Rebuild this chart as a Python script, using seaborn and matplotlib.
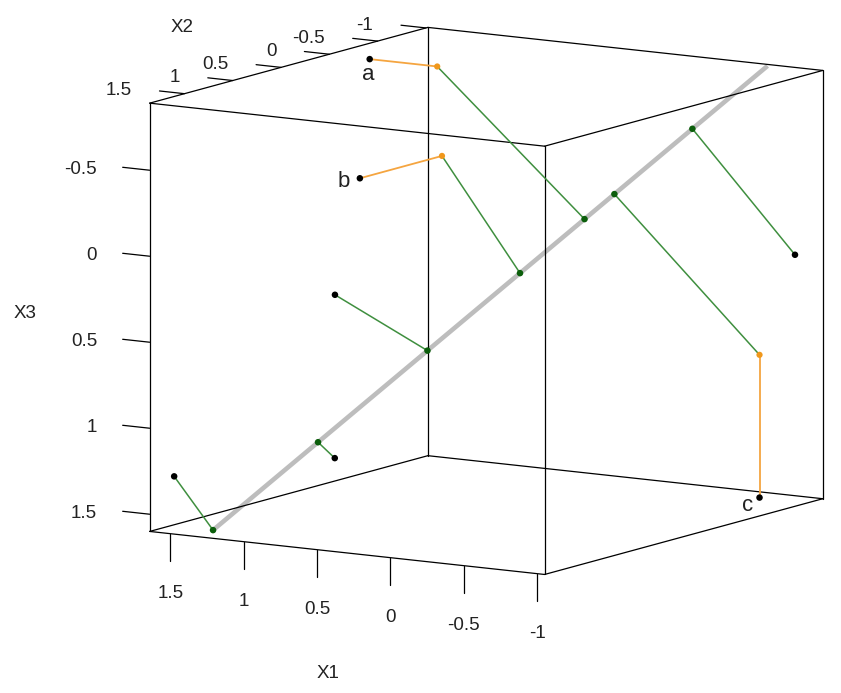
import itertools
import matplotlib
matplotlib.use("Agg")
import matplotlib.pyplot as plt
import numpy as np
import seaborn as sns

# observed points; a, b and c each carry one displaced coordinate
point_names = ["a", "b", "", "", "", "", "c"]
obs_x1 = [1.51, 0.32, 1.74, 0.82, 1.46, -0.92, -1.06]
obs_x2 = [-0.72, 1.19, -0.71, 0.69, 1.38, -1.43, -0.85]
obs_x3 = [-0.84, -0.55, 0.55, 1.20, 1.26, 0.18, 1.49]

# completed values (equal to the observed ones except for a, b, c)
fit_x1 = [1.05, 0.32, 1.74, 0.82, 1.46, -0.92, -1.06]
fit_x2 = [-0.72, 0.34, -0.71, 0.69, 1.38, -1.43, -0.85]
fit_x3 = [-0.84, -0.55, 0.55, 1.20, 1.26, 0.18, 0.66]

# principal axis, drawn between these two ends
pc_start = [1.35, 1.15, 1.60]
pc_end = [-0.70, -1.48, -0.89]

x1_ticks = [1.5, 1, 0.5, 0, -0.5, -1]
x2_ticks = [1, 0.5, 0, -0.5, -1, -1.5]
x2_labels = [1.5, 1, 0.5, 0, -0.5, -1]
x3_ticks = [-0.5, 0, 0.5, 1, 1.5]

x1_lim = (-1.05, 1.64)
x2_lim = (-1.52, 1.36)
x3_lim = (-0.89, 1.60)


def proj(x1, x2, x3):
    # parallel projection of the 3d box onto the page (pixels)
    x1, x2, x3 = (np.asarray(v, dtype=float) for v in (x1, x2, x3))
    px = 521.8 - 146.8 * x1 - 96.6 * x2
    py = 246.7 - 16.0 * x1 + 26.3 * x2 + 172.0 * x3
    return px, py


sns.set_style("white")
plt.rcParams["font.family"] = ["Liberation Sans", "DejaVu Sans"]
txt = dict(fontsize=13.5, color="#222222")

fig = plt.figure(figsize=(8.41, 6.93), dpi=100)
ax = fig.add_axes([0, 0, 1, 1])

# box
lims = [x1_lim, x2_lim, x3_lim]
corners = list(itertools.product(*lims))
for c1, c2 in itertools.combinations(corners, 2):
    if sum(a != b for a, b in zip(c1, c2)) == 1:
        px, py = proj(*zip(c1, c2))
        ax.plot(px, py, color="black", lw=0.9, zorder=3)

# projections onto the principal axis
start = np.array(pc_start)
d = np.array(pc_end) - start
fit = np.column_stack([fit_x1, fit_x2, fit_x3])
obs = np.column_stack([obs_x1, obs_x2, obs_x3])
t = (fit - start) @ d / (d @ d)
on_line = start + np.outer(t, d)

px, py = proj(*zip(pc_start, pc_end))
ax.plot(px, py, color="#bdbdbd", lw=3.3, solid_capstyle="butt", zorder=2)

for p, q in zip(fit, on_line):
    px, py = proj(*zip(p, q))
    ax.plot(px, py, color="#3f8f3f", lw=1.1, zorder=4)

moved = np.any(np.abs(fit - obs) > 1e-9, axis=1)
for p, q in zip(obs[moved], fit[moved]):
    px, py = proj(*zip(p, q))
    ax.plot(px, py, color="#f5a540", lw=1.3, zorder=4)

ox, oy = proj(obs_x1, obs_x2, obs_x3)
fx, fy = proj(*fit[moved].T)
lx, ly = proj(*on_line.T)
sns.scatterplot(x=lx, y=ly, color="#0b5e0b", s=22, edgecolor="none", ax=ax, zorder=5, legend=False)
sns.scatterplot(x=fx, y=fy, color="#f0981c", s=20, edgecolor="none", ax=ax, zorder=5, legend=False)
sns.scatterplot(x=ox, y=oy, color="black", s=22, edgecolor="none", ax=ax, zorder=6, legend=False)

label_shift = {"a": (-1, 15), "b": (-16, 3), "c": (-12, 8)}
for name, x, y in zip(point_names, ox, oy):
    if name:
        dx, dy = label_shift[name]
        ax.text(x + dx, y + dy, name, ha="center", va="center", fontsize=16, color="#222222")

# X1 axis along front bottom edge
for v in x1_ticks:
    px, py = proj([v, v], [x2_lim[1]] * 2, [x3_lim[1], x3_lim[1] + 0.157])
    ax.plot(px, py, color="black", lw=0.9)
    ax.text(px[0], py[0] + 60, f"{v:g}", ha="center", va="center", **txt)

# X2 axis along top left edge
for v in x2_ticks:
    px, py = proj([x1_lim[1], x1_lim[1] + 0.17], [v, v], [x3_lim[0]] * 2)
    ax.plot(px, py, color="black", lw=0.9)
for v in x2_labels:
    px, py = proj(x1_lim[1], v, x3_lim[0])
    ax.text(px - 4.5, py - 16, f"{v:g}", ha="right", va="center", **txt)

# X3 axis along front left edge
for v in x3_ticks:
    px, py = proj([x1_lim[1], x1_lim[1] + 0.184], [x2_lim[1]] * 2, [v, v])
    ax.plot(px, py, color="black", lw=0.9)
    ax.text(px[0] - 52.5, py[0] - 1, f"{v:g}", ha="right", va="center", **txt)

ax.text(328, 673, "X1", ha="center", va="center", **txt)
ax.text(182, 28, "X2", ha="center", va="center", **txt)
ax.text(25, 313, "X3", ha="center", va="center", **txt)

ax.set_xlim(0, 841)
ax.set_ylim(693, 0)
ax.axis("off")
fig.savefig("out.png", dpi=100)
